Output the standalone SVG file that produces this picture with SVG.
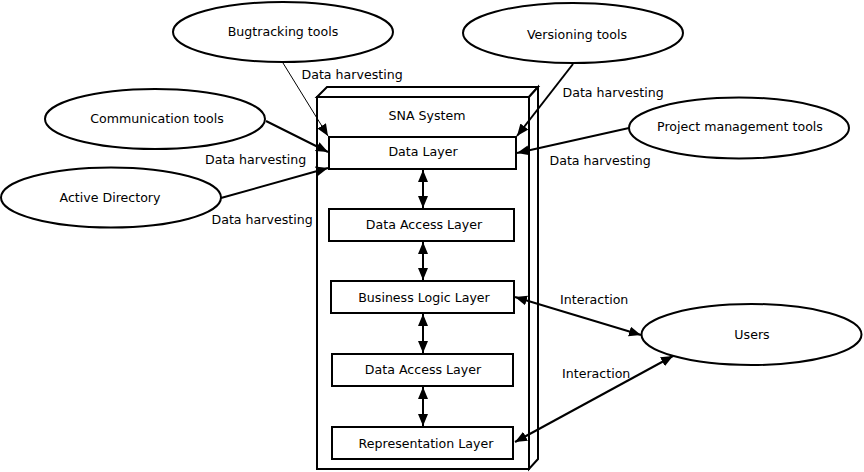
<svg xmlns="http://www.w3.org/2000/svg" width="864" height="472" viewBox="0 0 864 472">
<defs>
<style>
text{font-family:"DejaVu Sans","Liberation Sans",sans-serif;font-size:12.6px;fill:#000}
.c{text-anchor:middle}
.s{fill:#fff;stroke:#000;stroke-width:2}
.l{fill:none;stroke:#000;stroke-width:2}
.t{fill:none;stroke:#000;stroke-width:1}
</style>
<marker id="a" markerUnits="userSpaceOnUse" markerWidth="13" markerHeight="11" refX="12" refY="5" orient="auto-start-reverse" viewBox="0 0 13 11">
<path d="M0,0 L12,5 L0,10 z" fill="#000"/>
</marker>
</defs>
<rect width="864" height="472" fill="#fff"/>
<g id="sna-system">
<path class="s" d="M317,97 L327,87 L538,87 L529,97 Z"/>
<path class="s" d="M529,97 L538,87 L538,459 L529,469 Z"/>
<rect class="s" x="317" y="97" width="212" height="372"/>
<text class="c" x="427" y="119.5">SNA System</text>
</g>
<g id="data-layer">
<rect class="s" x="329" y="137" width="187" height="32"/>
<text class="c" x="423" y="156">Data Layer</text>
</g>
<g id="data-access-layer-1">
<rect class="s" x="329" y="209" width="185" height="32"/>
<text class="c" x="424" y="228.5">Data Access Layer</text>
</g>
<g id="business-logic-layer">
<rect class="s" x="331" y="281" width="183" height="32"/>
<text class="c" x="424" y="302">Business Logic Layer</text>
</g>
<g id="data-access-layer-2">
<rect class="s" x="332" y="354" width="181" height="32"/>
<text class="c" x="423" y="374">Data Access Layer</text>
</g>
<g id="representation-layer">
<rect class="s" x="332" y="427" width="181" height="32"/>
<text class="c" x="426" y="447.5">Representation Layer</text>
</g>
<g id="bugtracking-tools">
<ellipse class="s" cx="283" cy="32" rx="110" ry="30"/>
<text class="c" x="283" y="35.5">Bugtracking tools</text>
</g>
<g id="communication-tools">
<ellipse class="s" cx="155" cy="119" rx="110" ry="30"/>
<text class="c" x="157" y="123">Communication tools</text>
</g>
<g id="active-directory">
<ellipse class="s" cx="111" cy="197.5" rx="110" ry="30"/>
<text class="c" x="110" y="202">Active Directory</text>
</g>
<g id="versioning-tools">
<ellipse class="s" cx="573" cy="33" rx="110" ry="30"/>
<text class="c" x="577" y="39">Versioning tools</text>
</g>
<g id="project-management-tools">
<ellipse class="s" cx="739" cy="128" rx="110" ry="30.5"/>
<text class="c" x="740" y="131">Project management tools</text>
</g>
<g id="users">
<ellipse class="s" cx="751.5" cy="334.5" rx="110" ry="30.5"/>
<text class="c" x="752" y="338.5">Users</text>
</g>
<g id="connectors">
<line class="t" x1="283" y1="63" x2="328" y2="136" marker-end="url(#a)"/>
<line class="l" x1="266" y1="121" x2="328" y2="152" marker-end="url(#a)"/>
<line class="l" x1="221" y1="198" x2="328" y2="168" marker-end="url(#a)"/>
<line class="l" x1="573" y1="64" x2="517" y2="136" marker-end="url(#a)"/>
<line class="l" x1="629" y1="128" x2="517" y2="153" marker-end="url(#a)"/>
<line class="l" x1="423" y1="170" x2="423" y2="208" marker-start="url(#a)" marker-end="url(#a)"/>
<line class="l" x1="423" y1="242" x2="423" y2="280" marker-start="url(#a)" marker-end="url(#a)"/>
<line class="l" x1="423" y1="314" x2="423" y2="353" marker-start="url(#a)" marker-end="url(#a)"/>
<line class="l" x1="423" y1="387" x2="423" y2="426" marker-start="url(#a)" marker-end="url(#a)"/>
<line class="l" x1="515" y1="297" x2="641" y2="335" marker-start="url(#a)" marker-end="url(#a)"/>
<line class="l" x1="515" y1="442" x2="673" y2="356" marker-start="url(#a)" marker-end="url(#a)"/>
<text x="301.5" y="79">Data harvesting</text>
<text x="205" y="163.5">Data harvesting</text>
<text x="211.5" y="223.5">Data harvesting</text>
<text x="562.5" y="97">Data harvesting</text>
<text x="549.5" y="165">Data harvesting</text>
<text x="560" y="304">Interaction</text>
<text x="562" y="377.5">Interaction</text>
</g>
</svg>
